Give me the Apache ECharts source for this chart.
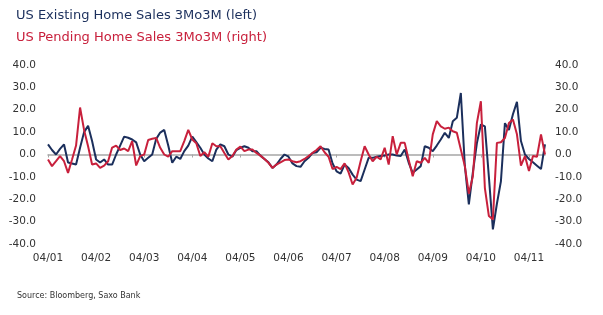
<!DOCTYPE html>
<html>
<head>
<meta charset="utf-8">
<script src="https://cdn.jsdelivr.net/npm/echarts@6/dist/echarts.min.js"></script>
<style>
  html, body { margin: 0; padding: 0; background: #fff; }
  #chart { width: 603px; height: 315px; }
</style>
</head>
<body>
<div id="chart"></div>
<script>
// monthly, Apr 2001 .. Aug 2011 (labels MM/YY)
const START_YEAR = 2001, START_MONTH = 4, N_MONTHS = 125;
const months = [];
for (let i = 0; i < N_MONTHS; i++) {
  const m = (START_MONTH - 1 + i) % 12 + 1;
  const y = START_YEAR + Math.floor((START_MONTH - 1 + i) / 12);
  months.push(String(m).padStart(2, '0') + '/' + String(y % 100).padStart(2, '0'));
}

// US Existing Home Sales 3Mo3M (left axis)
const existing = [
  4.5, 2, 0, 2.5, 4.5, -3.6, -4, -4.5, 3, 10, 12.8, 6,
  -2.2, -3.6, -2.2, -4.5, -4.5, 0, 4, 8, 7.5, 6.7, 5.4, 0,
  -3, -1.5, 0, 7, 9.8, 11, 4, -3.7, -1, -2, 1.5, 4,
  8, 5.5, 3, 0, -1.8, -3, 2.2, 4.5, 3.7, 0, -1, 2,
  3, 3.7, 3, 1.5, 1.5, -0.5, -2, -3.5, -6, -4.5, -2, 0,
  -1, -4, -5.2, -5.5, -3, -1.5, 0.7, 1, 3, 2.5, 2.2, -4,
  -7.5, -8.5, -4.5, -6, -9, -11.2, -11.9, -6.7, -1.5, -1.5, -1, -0.7,
  -0.5, 0, 0, -0.5, -0.7, 2.2, -3.7, -8.2, -6.7, -5.2, 3.7, 3,
  1.5, 4, 6.7, 9.7, 7.4, 14.9, 16.4, 27.5, -5, -22.3, -8, 5,
  13.4, 12.6, -10, -33.5, -22, -12, 14, 11, 18, 23.5, 6, 0,
  -2, -3.5, -5, -6.5, 4.5
];

// US Pending Home Sales 3Mo3M (right axis)
const pending = [
  -2.2, -5.2, -3, -0.7, -3, -8.2, -2.2, 4, 21, 11, 3.7, -4.5,
  -4, -6, -5, -3, 3.1, 4, 2, 2.7, 1.5, 6, -4.9, -0.7,
  0, 6.5, 7, 7.4, 3, 0, -1, 1.5, 1.5, 1.5, 6, 11,
  6.7, 5, -0.7, 1, -1, 5, 3.7, 3.7, 0.7, -2.2, -0.7, 2.2,
  3.5, 1.5, 2.2, 2.2, 0.7, -0.5, -2, -3.7, -6, -4.5, -3.5, -2.5,
  -2.2, -3, -3.5, -3, -2, -0.7, 0.7, 2, 3.7, 1, -1, -6.5,
  -5.5, -6.5, -4, -8, -13.4, -10.4, -3, 3.7, 0, -3, -1, -2.2,
  3, -4.5, 8.2, 0, 5.2, 5.2, -2.5, -9.7, -3, -3.7, -1.5, -3.7,
  9, 14.9, 12.6, 11.5, 12, 10.4, 9.7, 2.2, -5.2, -17.5, -9.7, 14,
  23.8, -15, -27.5, -29, 5.2, 5.5, 7.4, 14.1, 15.6, 9, -5, -0.7,
  -7.4, -0.7, -1, 9, 0
];

const NAVY = '#1b2f5c';
const RED = '#c8203c';
const AXIS_FONT = 'DejaVu Sans';

const chart = echarts.init(document.getElementById('chart'), null, {renderer: 'canvas'});

const yAxisBase = {
  type: 'value',
  min: -40,
  max: 40,
  interval: 10,
  splitLine: {show: false},
  axisLine: {show: false},
  axisTick: {show: false},
  axisLabel: {
    color: '#333',
    fontSize: 10.5,
    fontFamily: AXIS_FONT,
    formatter: v => v.toFixed(1),
  },
};

chart.setOption({
  animation: false,
  title: [
    {
      text: 'US Existing Home Sales 3Mo3M (left)',
      left: 11, top: 4,
      textStyle: {color: NAVY, fontSize: 13, fontWeight: 'normal', fontFamily: AXIS_FONT},
    },
    {
      text: 'US Pending Home Sales 3Mo3M (right)',
      left: 11, top: 26,
      textStyle: {color: RED, fontSize: 13, fontWeight: 'normal', fontFamily: AXIS_FONT},
    },
  ],
  graphic: [{
    type: 'text',
    left: 17, top: 292,
    style: {
      text: 'Source: Bloomberg, Saxo Bank',
      fill: '#333',
      font: '8px "DejaVu Sans"',
    },
  }],
  grid: {left: 48, right: 58, top: 65, bottom: 71},
  xAxis: [
    {
      type: 'category',
      data: months,
      boundaryGap: false,
      axisLine: {show: false},
      axisTick: {show: false},
      axisLabel: {
        interval: 11,
        margin: 9,
        color: '#333',
        fontSize: 10.5,
        fontFamily: AXIS_FONT,
      },
    },
    {
      // zero line with small year ticks
      type: 'category',
      data: months,
      boundaryGap: false,
      position: 'bottom',
      axisLine: {show: true, onZero: true, lineStyle: {color: '#a6a6a6', width: 1.5}},
      axisTick: {show: true, interval: 11, length: 3, lineStyle: {color: '#a6a6a6'}},
      axisLabel: {show: false},
    },
  ],
  yAxis: [
    {...yAxisBase, position: 'left', axisLabel: {...yAxisBase.axisLabel, margin: 12}},
    {...yAxisBase, position: 'right', axisLabel: {...yAxisBase.axisLabel, margin: 10}},
  ],
  series: [
    {
      name: 'US Existing Home Sales 3Mo3M',
      type: 'line',
      xAxisIndex: 0,
      yAxisIndex: 0,
      data: existing,
      symbol: 'none',
      lineStyle: {color: NAVY, width: 2},
    },
    {
      name: 'US Pending Home Sales 3Mo3M',
      type: 'line',
      xAxisIndex: 0,
      yAxisIndex: 1,
      data: pending,
      symbol: 'none',
      lineStyle: {color: RED, width: 2},
    },
  ],
});
</script>
</body>
</html>
